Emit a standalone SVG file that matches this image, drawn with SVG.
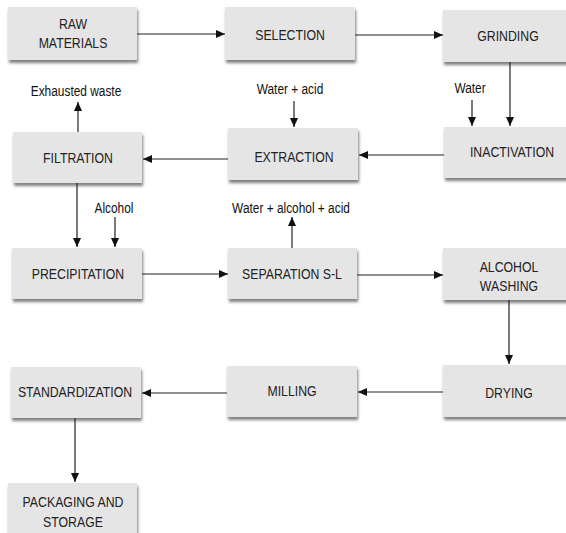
<svg xmlns="http://www.w3.org/2000/svg" width="566" height="533" viewBox="0 0 566 533">
<defs>
<filter id="sh" x="-10%" y="-10%" width="130%" height="140%">
<feDropShadow dx="1" dy="3" stdDeviation="1.5" flood-color="#000" flood-opacity="0.5"/>
</filter>
<marker id="ah" markerUnits="userSpaceOnUse" markerWidth="10" markerHeight="9" refX="9" refY="4" orient="auto">
<path d="M0,0 L9,4 L0,8 z" fill="#111"/>
</marker>
<style>
.box{fill:#e6e5e5;filter:url(#sh)}
.t{font-family:"Liberation Sans",Arial,sans-serif;font-size:15px;fill:#222;text-anchor:middle}
.l{font-family:"Liberation Sans",Arial,sans-serif;font-size:14.5px;fill:#111;text-anchor:middle}
.c{stroke:#222;stroke-width:1.2;fill:none;marker-end:url(#ah)}
</style>
</defs>
<rect width="566" height="533" fill="#fff"/>
<g id="raw"><rect class="box" x="8" y="7" width="129" height="53"/><text class="t" transform="translate(73,29) scale(0.82,1)">RAW</text><text class="t" transform="translate(73,48) scale(0.82,1)">MATERIALS</text></g>
<g id="selection"><rect class="box" x="225" y="7" width="130" height="53"/><text class="t" transform="translate(290,40) scale(0.82,1)">SELECTION</text></g>
<g id="grinding"><rect class="box" x="443" y="10" width="130" height="52"/><text class="t" transform="translate(508,41) scale(0.82,1)">GRINDING</text></g>
<g id="filtration"><rect class="box" x="13" y="132" width="129" height="51"/><text class="t" transform="translate(78,163) scale(0.82,1)">FILTRATION</text></g>
<g id="extraction"><rect class="box" x="228" y="128" width="130" height="52"/><text class="t" transform="translate(294,162) scale(0.82,1)">EXTRACTION</text></g>
<g id="inactivation"><rect class="box" x="444" y="127" width="130" height="51"/><text class="t" transform="translate(512,157) scale(0.82,1)">INACTIVATION</text></g>
<g id="precipitation"><rect class="box" x="12" y="248" width="130" height="51"/><text class="t" transform="translate(78,279) scale(0.82,1)">PRECIPITATION</text></g>
<g id="separation"><rect class="box" x="228" y="248" width="129" height="51"/><text class="t" transform="translate(292,279) scale(0.82,1)">SEPARATION S-L</text></g>
<g id="washing"><rect class="box" x="443" y="248" width="130" height="52"/><text class="t" transform="translate(509,272) scale(0.82,1)">ALCOHOL</text><text class="t" transform="translate(509,291) scale(0.82,1)">WASHING</text></g>
<g id="standardization"><rect class="box" x="11" y="367" width="130" height="51"/><text class="t" transform="translate(75,397) scale(0.82,1)">STANDARDIZATION</text></g>
<g id="milling"><rect class="box" x="227" y="366" width="130" height="51"/><text class="t" transform="translate(292,396) scale(0.82,1)">MILLING</text></g>
<g id="drying"><rect class="box" x="443" y="365" width="130" height="52"/><text class="t" transform="translate(509,398) scale(0.82,1)">DRYING</text></g>
<g id="packaging"><rect class="box" x="8" y="483" width="129" height="60"/><text class="t" transform="translate(73,507) scale(0.82,1)">PACKAGING AND</text><text class="t" transform="translate(73,527) scale(0.82,1)">STORAGE</text></g>
<g id="labels">
<text class="l" transform="translate(76,96) scale(0.82,1)">Exhausted waste</text>
<text class="l" transform="translate(290,94) scale(0.82,1)">Water + acid</text>
<text class="l" transform="translate(470,93) scale(0.82,1)">Water</text>
<text class="l" transform="translate(114,213) scale(0.82,1)">Alcohol</text>
<text class="l" transform="translate(291,213) scale(0.82,1)">Water + alcohol + acid</text>
</g>
<g id="connectors">
<line class="c" x1="137" y1="34" x2="225" y2="34"/>
<line class="c" x1="355" y1="35" x2="443" y2="35"/>
<line class="c" x1="510" y1="62" x2="510" y2="126"/>
<line class="c" x1="472" y1="100" x2="472" y2="126"/>
<line class="c" x1="444" y1="155" x2="359" y2="155"/>
<line class="c" x1="294" y1="101" x2="294" y2="127"/>
<line class="c" x1="228" y1="159" x2="143" y2="159"/>
<line class="c" x1="78" y1="132" x2="78" y2="102"/>
<line class="c" x1="77" y1="183" x2="77" y2="247"/>
<line class="c" x1="115" y1="217" x2="115" y2="247"/>
<line class="c" x1="292" y1="248" x2="292" y2="217"/>
<line class="c" x1="142" y1="274" x2="228" y2="274"/>
<line class="c" x1="357" y1="275" x2="443" y2="275"/>
<line class="c" x1="509" y1="300" x2="509" y2="364"/>
<line class="c" x1="443" y1="392" x2="358" y2="392"/>
<line class="c" x1="227" y1="393" x2="142" y2="393"/>
<line class="c" x1="75" y1="418" x2="75" y2="482"/>
</g>
</svg>
